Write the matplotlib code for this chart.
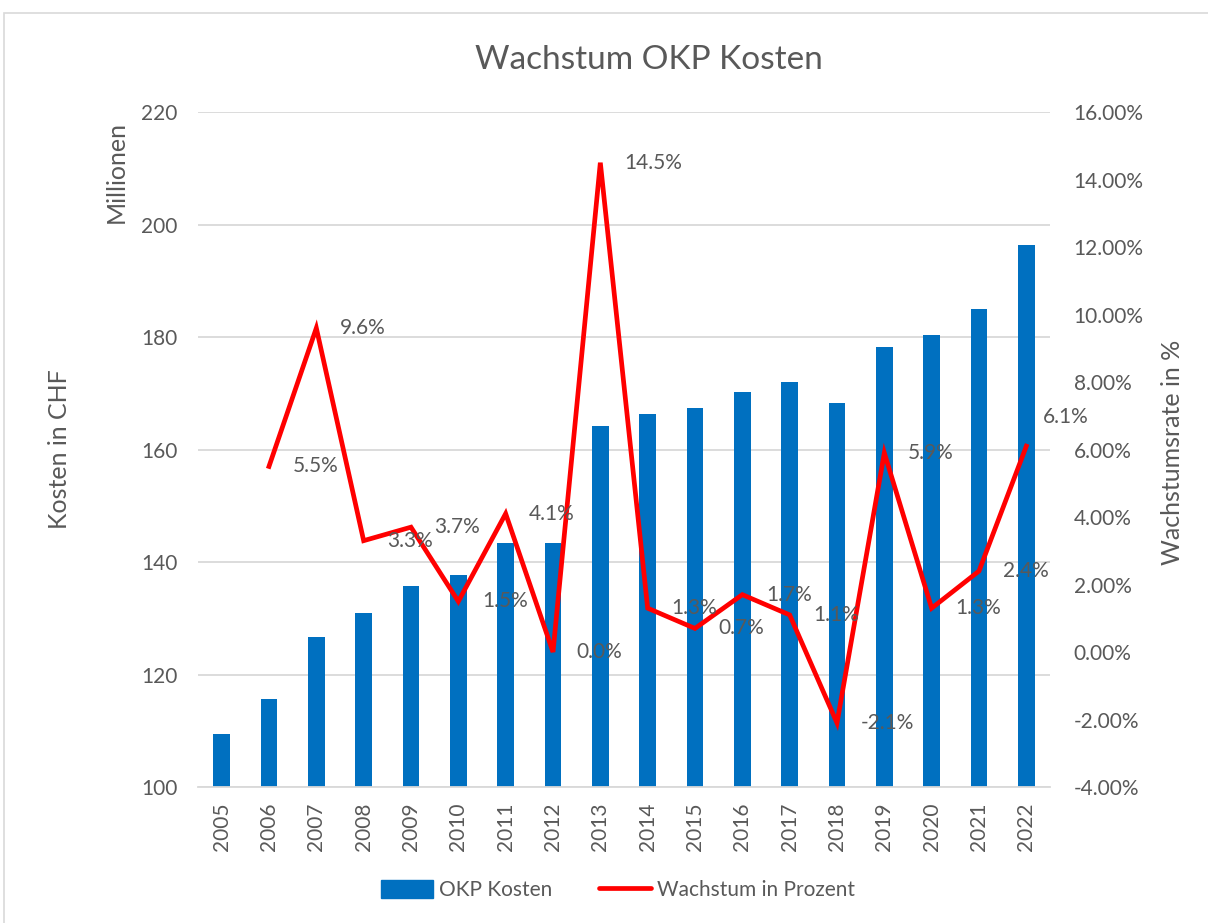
import matplotlib.pyplot as plt
import numpy as np
from matplotlib.patches import Rectangle
from matplotlib.lines import Line2D
from matplotlib.ticker import FuncFormatter

plt.rcParams['font.family'] = ['Lato', 'DejaVu Sans']

years = [str(y) for y in range(2005, 2023)]
kosten = [109.5, 115.6, 126.7, 130.9, 135.7, 137.7, 143.3, 143.4, 164.1,
          166.3, 167.4, 170.2, 172.0, 168.3, 178.2, 180.4, 184.9, 196.3]
# growth in percent, no value for 2005
wachstum = [None, 5.5, 9.6, 3.3, 3.7, 1.5, 4.1, 0.0, 14.5,
            1.3, 0.7, 1.7, 1.1, -2.1, 5.9, 1.3, 2.4, 6.1]

grey = '#595959'
fig = plt.figure(figsize=(12.08, 9.23), dpi=100)
ax = fig.add_axes([0.1639, 0.1473, 0.7053, 0.7313])

# chart frame
fig.patches.append(Rectangle((4 / 1208, -0.01), 1.02, 1 - 13 / 923 + 0.01,
                             transform=fig.transFigure, fill=False,
                             edgecolor='#D9D9D9', linewidth=1.2))

x = np.arange(len(years))
ax.bar(x, kosten, width=0.35, color='#0070C0', zorder=2)
ax.set_ylim(100, 220)
ax.set_yticks(range(100, 221, 20))
ax.set_xlim(-0.5, len(years) - 0.5)
ax.set_xticks(x)
ax.set_xticklabels(years, rotation=90)
ax.grid(axis='y', color='#D9D9D9', linewidth=1.3, zorder=0)
ax.set_axisbelow(True)
for s in ['top', 'right', 'left']:
    ax.spines[s].set_visible(False)
ax.spines['bottom'].set_color('#D9D9D9')
ax.spines['bottom'].set_linewidth(1.3)
ax.tick_params(axis='both', length=0, labelsize=15, labelcolor=grey)
ax.tick_params(axis='y', pad=15)
ax.tick_params(axis='x', pad=11)

ax2 = ax.twinx()
gx = [i for i, v in enumerate(wachstum) if v is not None]
gy = [v for v in wachstum if v is not None]
ax2.plot(gx, gy, color='#FF0000', linewidth=3.4, solid_joinstyle='miter', zorder=3)
for xi, yi in zip(gx, gy):
    # last label sits higher so it clears the right tick labels
    off = (12, 21) if xi == len(years) - 1 else (17, 0)
    ax2.annotate(f'{yi:.1f}%', (xi, yi), xytext=off, textcoords='offset points',
                 ha='left', va='center', fontsize=15, color=grey)
ax2.set_ylim(-4, 16)
ax2.set_yticks(range(-4, 17, 2))
ax2.yaxis.set_major_formatter(FuncFormatter(lambda v, p: f'{v:.2f}%'))
for s in ax2.spines.values():
    s.set_visible(False)
ax2.tick_params(axis='y', length=0, labelsize=15, labelcolor=grey, pad=17)

fig.text(0.5371, 1 - 60 / 923, 'Wachstum OKP Kosten', ha='center', va='center',
         fontsize=24, color=grey)
fig.text(60 / 1208, 1 - 449 / 923, 'Kosten in CHF', rotation=90, ha='center',
         va='center', fontsize=18, color=grey)
fig.text(116 / 1208, 1 - 121 / 923, 'Millionen', rotation=90, ha='center', va='top',
         fontsize=18, color=grey)
fig.text(1172 / 1208, 1 - 452 / 923, 'Wachstumsrate in %', rotation=90, ha='center',
         va='center', fontsize=18, color=grey)

handles = [Rectangle((0, 0), 1, 1, color='#0070C0'),
           Line2D([0], [0], color='#FF0000', linewidth=3.4, solid_capstyle='round')]
fig.legend(handles, ['OKP Kosten', 'Wachstum in Prozent'], loc='center',
           bbox_to_anchor=(618 / 1208, 1 - 890 / 923), ncol=2, frameon=False,
           fontsize=15, labelcolor=grey, handlelength=2.5, handleheight=1.0,
           columnspacing=2.2, handletextpad=0.3)

fig.savefig('out.png', dpi=100)
